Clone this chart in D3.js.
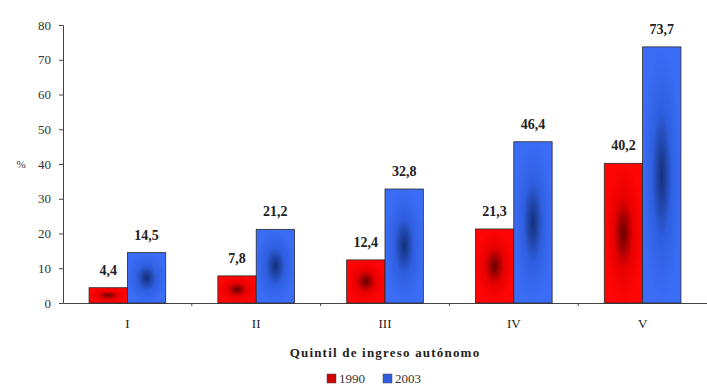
<!DOCTYPE html>
<html>
<head>
<meta charset="utf-8">
<script src="https://cdn.jsdelivr.net/npm/d3@7"></script>
<style>
  body { margin: 0; background: #fff; }
  svg { display: block; font-family: "Liberation Serif", "DejaVu Serif", serif; }
</style>
</head>
<body>
<script>
const quintiles = ["I", "II", "III", "IV", "V"]
const years = ["1990", "2003"]
const values1990 = [4.4, 7.8, 12.4, 21.3, 40.2]
const values2003 = [14.5, 21.2, 32.8, 46.4, 73.7]
const yTicks = [0, 10, 20, 30, 40, 50, 60, 70, 80]

const w = 707, h = 390
const m = { top: 25, right: 0, bottom: 87, left: 63 }

const svg = d3.select("body").append("svg")
  .attr("width", w).attr("height", h)

// gradients: bright edges, dark centre
const defs = svg.append("defs")
const grads = [
  { id: "g1990", edge: "#ff0505", mid: "#e80000", core: "#6a0000" },
  { id: "g2003", edge: "#3a6cf5", mid: "#2f5fe0", core: "#132f78" }
]
grads.forEach(g => {
  const rg = defs.append("radialGradient").attr("id", g.id)
    .attr("cx", "50%").attr("cy", "50%").attr("r", "50%")
  rg.append("stop").attr("offset", "0%").attr("stop-color", g.core)
  rg.append("stop").attr("offset", "50%").attr("stop-color", g.mid)
  rg.append("stop").attr("offset", "100%").attr("stop-color", g.edge)
})

const x = d3.scaleBand().domain(quintiles)
  .range([m.left, w - m.right]).paddingInner(0).paddingOuter(0)
const xs = d3.scaleBand().domain(years)
  .range([0, x.bandwidth()]).paddingInner(0).paddingOuter(0.68)
const y = d3.scaleLinear().domain([0, 80]).range([h - m.bottom, m.top])

// axes
const yAxis = svg.append("g")
  .attr("transform", `translate(${m.left},0)`)
  .call(d3.axisLeft(y).tickValues(yTicks).tickSize(4).tickPadding(8).tickFormat(d3.format("d")))
yAxis.select(".domain").attr("stroke", "#444")
yAxis.selectAll(".tick line").attr("stroke", "#444")
yAxis.selectAll("text").attr("font-family", "Liberation Serif, serif")
  .attr("font-size", 13).attr("fill", "#333")

svg.append("text")
  .attr("x", 21).attr("y", y(40) + 4)
  .attr("text-anchor", "middle")
  .attr("font-size", 11).attr("fill", "#333")
  .text("%")

const xAxis = svg.append("g")
  .attr("transform", `translate(0,${y(0)})`)
  .call(d3.axisBottom(x).tickSize(0).tickPadding(16))
xAxis.select(".domain").attr("stroke", "#444")
xAxis.selectAll("text").attr("font-family", "Liberation Serif, serif")
  .attr("font-size", 13).attr("fill", "#222")

// small separators between categories
svg.append("g").selectAll("line")
  .data(quintiles.slice(1))
  .join("line")
  .attr("x1", d => x(d)).attr("x2", d => x(d))
  .attr("y1", y(0)).attr("y2", y(0) + 3)
  .attr("stroke", "#444")

// bars
const rows = quintiles.map((q, i) => ({ q, vals: [
  { year: "1990", v: values1990[i] },
  { year: "2003", v: values2003[i] }
] }))

const groups = svg.append("g").selectAll("g")
  .data(rows).join("g")
  .attr("transform", d => `translate(${x(d.q)},0)`)

groups.selectAll("rect")
  .data(d => d.vals).join("rect")
  .attr("x", d => xs(d.year))
  .attr("y", d => y(d.v))
  .attr("width", xs.bandwidth())
  .attr("height", d => y(0) - y(d.v))
  .attr("fill", d => `url(#g${d.year})`)
  .attr("stroke", "#2a2a2a").attr("stroke-width", 0.8)

groups.selectAll("text.val")
  .data(d => d.vals).join("text")
  .attr("class", "val")
  .attr("x", d => xs(d.year) + xs.bandwidth() / 2)
  .attr("y", d => y(d.v) - 13)
  .attr("text-anchor", "middle")
  .attr("font-size", 14).attr("font-weight", "bold").attr("fill", "#222")
  .text(d => String(d.v).replace(".", ","))

// axis title
svg.append("text")
  .attr("x", 385).attr("y", 357)
  .attr("text-anchor", "middle")
  .attr("font-size", 13).attr("font-weight", "bold")
  .attr("letter-spacing", 1.2).attr("fill", "#222")
  .text("Quintil de ingreso autónomo")

// legend
const legend = svg.append("g").attr("transform", "translate(327,374)")
years.forEach((yr, i) => {
  const gx = i * 56
  legend.append("rect")
    .attr("x", gx).attr("y", 0).attr("width", 9).attr("height", 9)
    .attr("fill", i === 0 ? "#d00000" : "#2f5fe0")
    .attr("stroke", "#444").attr("stroke-width", 0.5)
  legend.append("text")
    .attr("x", gx + 12).attr("y", 9)
    .attr("font-size", 13).attr("fill", "#333")
    .text(yr)
})
</script>
</body>
</html>
